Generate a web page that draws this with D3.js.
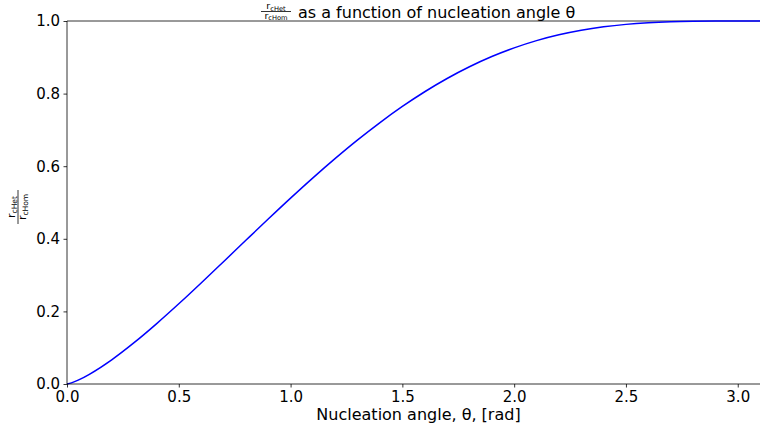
<!DOCTYPE html>
<html><head><meta charset="utf-8">
<script src="https://cdn.jsdelivr.net/npm/d3@7"></script>
<style>body{margin:0;background:#fff}svg{display:block;font-family:"DejaVu Sans",sans-serif}</style>
</head><body>
<svg id="c" width="760" height="434"></svg>
<script>
const theta = [0,0.02,0.05,0.1,0.2,0.3,0.4,0.5,0.6,0.7,0.8,0.9,1.0,1.1,1.2,1.3,1.4,1.5,1.6,1.7,1.8,1.9,2.0,2.1,2.2,2.3,2.4,2.5,2.6,2.7,2.8,2.9,3.0,3.1,3.14159];
const ratio = [0,0.0031,0.0105,0.0265,0.0666,0.1138,0.1657,0.2209,0.2783,0.3369,0.3958,0.4544,0.5120,0.5679,0.6215,0.6725,0.7203,0.7646,0.8051,0.8416,0.8739,0.9021,0.9260,0.9460,0.9620,0.9746,0.9840,0.9907,0.9951,0.9978,0.9992,0.9998,1.0,1.0,1.0];
const xTicks = [0,0.5,1.0,1.5,2.0,2.5,3.0];
const yTicks = [0,0.2,0.4,0.6,0.8,1.0];

const svg = d3.select("#c");
const L = 67, R = 769.4, T = 21, B = 384;
const x = d3.scaleLinear().domain([0, Math.PI]).range([L, R]);
const y = d3.scaleLinear().domain([0, 1]).range([B, T]);

svg.append("line").attr("x1",L).attr("x2",R).attr("y1",T).attr("y2",T).attr("stroke","#000").attr("stroke-width",0.8);

svg.append("path").datum(theta.map((t,i)=>[t,ratio[i]]))
  .attr("fill","none").attr("stroke","#0000ff").attr("stroke-width",1.5)
  .attr("d", d3.line().x(d=>x(d[0])).y(d=>y(d[1])).curve(d3.curveCatmullRom));

const xa = svg.append("g").attr("transform",`translate(0,${B})`)
  .call(d3.axisBottom(x).tickValues(xTicks).tickFormat(d3.format(".1f")).tickSizeOuter(0).tickSize(3.5).tickPadding(3.5));
const ya = svg.append("g").attr("transform",`translate(${L},0)`)
  .call(d3.axisLeft(y).tickValues(yTicks).tickFormat(d3.format(".1f")).tickSizeOuter(0).tickSize(3.5).tickPadding(3.5));
[xa,ya].forEach(a=>{
  a.selectAll("path").attr("stroke","#000").attr("stroke-width",0.8);
  a.selectAll("line").attr("stroke","#000").attr("stroke-width",0.8);
  a.selectAll("text").attr("font-size",15).attr("fill","#000").attr("font-family","DejaVu Sans");
});
xa.select(".domain").attr("d",`M${L},0H${R}`);
ya.select(".domain").attr("d",`M0,${B}V${T}`);

svg.append("text").attr("x",418.5).attr("y",420).attr("text-anchor","middle")
  .attr("font-size",16).text("Nucleation angle, θ, [rad]");

function frac(g, num, den, fs, sfs, w){
  const n = g.append("text").attr("text-anchor","middle").attr("y",-fs*0.26).attr("font-size",fs);
  n.append("tspan").text("r");
  n.append("tspan").attr("font-size",sfs).attr("dy",fs*0.2).text(num);
  const d = g.append("text").attr("text-anchor","middle").attr("y",fs*0.74).attr("font-size",fs);
  d.append("tspan").text("r");
  d.append("tspan").attr("font-size",sfs).attr("dy",fs*0.2).text(den);
  g.append("line").attr("x1",-w/2).attr("x2",w/2).attr("y1",0).attr("y2",0).attr("stroke","#000").attr("stroke-width",0.8);
}
const tg = svg.append("g").attr("transform","translate(276,11.5)");
frac(tg,"cHet","cHom",9.5,6.7,30);
svg.append("text").attr("x",298).attr("y",18).attr("font-size",16).text("as a function of nucleation angle θ");

const yg = svg.append("g").attr("transform","translate(18,207) rotate(-90)");
frac(yg,"cHet","cHom",11,7.5,34);
</script>
</body></html>
